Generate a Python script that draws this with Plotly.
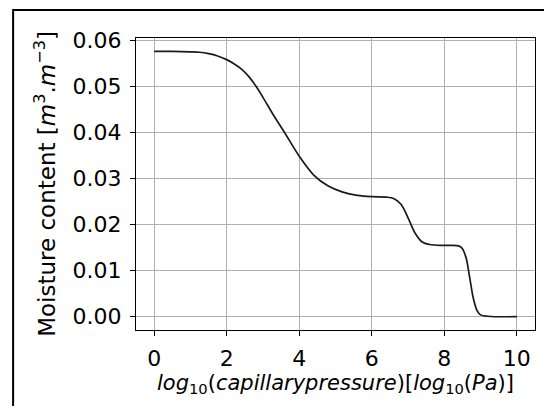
import plotly.graph_objects as go

# log10 capillary pressure [log10(Pa)]
log_pc = [0.0, 0.5, 1.0, 1.25, 1.5, 1.75, 2.0, 2.2, 2.4, 2.6, 2.8, 3.0, 3.3, 3.6, 4.0,
          4.4, 4.8, 5.2, 5.6, 6.0, 6.4, 6.6, 6.8, 7.0, 7.2, 7.4, 7.6, 8.0, 8.4, 8.5,
          8.6, 8.7, 8.8, 8.9, 9.0, 9.2, 10.0]
# moisture content [m3/m3]
moisture = [0.0577, 0.0577, 0.0576, 0.0575, 0.0572, 0.0567, 0.0559, 0.0550, 0.0539,
            0.0523, 0.0502, 0.0477, 0.0437, 0.0400, 0.0349, 0.0308, 0.0284, 0.0271,
            0.0264, 0.0261, 0.0260, 0.0257, 0.0245, 0.0215, 0.0181, 0.0162, 0.0157,
            0.0155, 0.0154, 0.0148, 0.0128, 0.0085, 0.0040, 0.0014, 0.0004, 0.0001,
            0.0]

x_ticks = [0, 2, 4, 6, 8, 10]
y_ticks = [0.00, 0.01, 0.02, 0.03, 0.04, 0.05, 0.06]

FONT = "DejaVu Sans"

fig = go.Figure()
fig.add_trace(go.Scatter(
    x=log_pc, y=moisture, mode="lines",
    line=dict(color="#1a1a1a", width=1.7, shape="spline", smoothing=1.0),
    showlegend=False, hoverinfo="skip",
))

axis_common = dict(
    showline=True, linecolor="black", linewidth=1.3, mirror=True,
    ticks="outside", ticklen=5, tickwidth=1.2, tickcolor="black",
    showgrid=True, gridcolor="#b0b0b0", gridwidth=1.1,
    zeroline=False,
    tickfont=dict(family=FONT, size=22, color="black"),
)

fig.update_layout(
    width=536, height=398,
    margin=dict(l=128, r=9, t=30, b=76),
    paper_bgcolor="white", plot_bgcolor="white",
    font=dict(family=FONT, color="black"),
    xaxis=dict(
        range=[-0.5, 10.5], tickvals=x_ticks, ticktext=[str(v) for v in x_ticks],
        ticklabelstandoff=3,
        title=dict(
            text="<i>log</i><sub>10</sub>(<i>capillarypressure</i>)[<i>log</i><sub>10</sub>(<i>Pa</i>)]",
            font=dict(family=FONT, size=21, color="black"), standoff=3),
        **axis_common,
    ),
    yaxis=dict(
        range=[-0.00289, 0.0606], tickvals=y_ticks, ticktext=[f"{v:.2f}" for v in y_ticks],
        ticklabelstandoff=4,
        title=dict(
            text="Moisture content [<i>m</i><sup>3</sup>.<i>m</i><sup>−3</sup>]",
            font=dict(family=FONT, size=23, color="black"), standoff=10),
        **axis_common,
    ),
    shapes=[dict(
        type="rect", xref="paper", yref="paper",
        x0=-0.308, x1=1.1, y0=-0.4, y1=1.0959,
        line=dict(color="black", width=2), fillcolor="rgba(0,0,0,0)", layer="above",
    )],
)

fig.write_html("out.html")
